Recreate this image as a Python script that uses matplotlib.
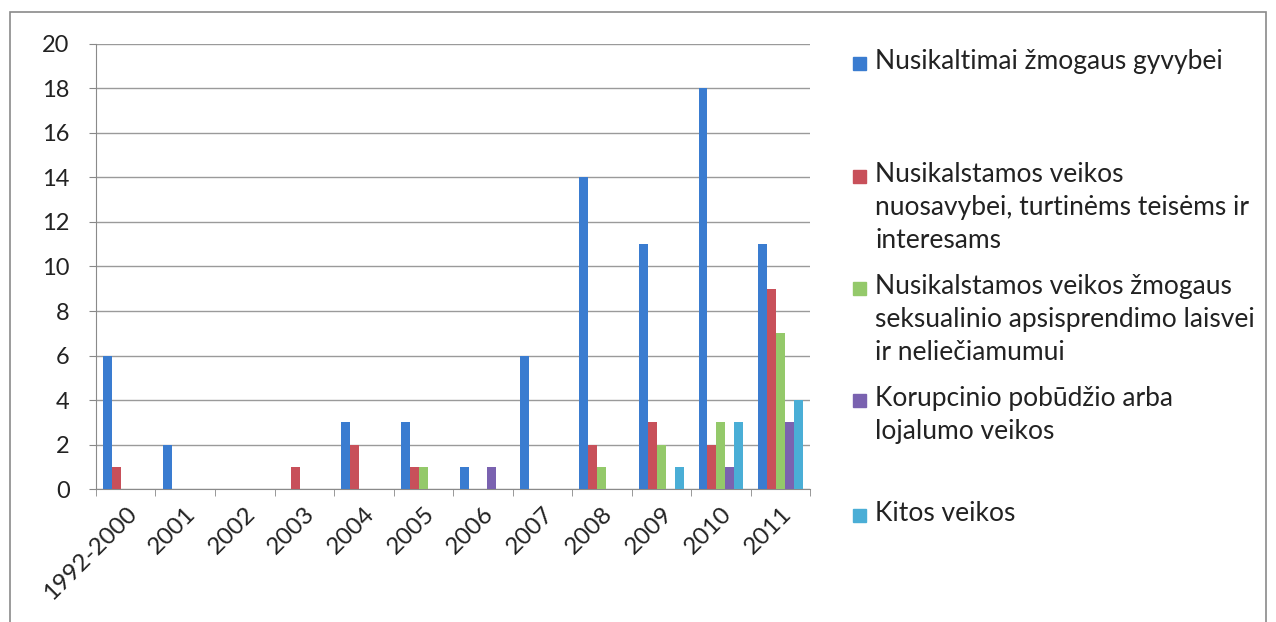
"""Grouped bar chart: nusikalstamos veikos by year."""

import matplotlib
matplotlib.use('Agg')
import matplotlib.pyplot as plt
from matplotlib.patches import Rectangle
import numpy as np

plt.rcParams.update({
    'font.family': ['Lato', 'DejaVu Sans'],
    'font.size': 14,
})

YEARS = ['1992-2000', '2001', '2002', '2003', '2004', '2005',
         '2006', '2007', '2008', '2009', '2010', '2011']
GYVYBEI      = [6, 2, 0, 0, 3, 3, 1, 6, 14, 11, 18, 11]
NUOSAVYBEI   = [1, 0, 0, 1, 2, 1, 0, 0, 2, 3, 2, 9]
SEKSUALINIO  = [0, 0, 0, 0, 0, 1, 0, 0, 1, 2, 3, 7]
KORUPCINIO   = [0, 0, 0, 0, 0, 0, 1, 0, 0, 0, 1, 3]
KITOS        = [0, 0, 0, 0, 0, 0, 0, 0, 0, 1, 3, 4]

SERIES = [GYVYBEI, NUOSAVYBEI, SEKSUALINIO, KORUPCINIO, KITOS]
LABELS = [
    'Nusikaltimai žmogaus gyvybei',
    'Nusikalstamos veikos\nnuosavybei, turtinėms teisėms ir\ninteresams',
    'Nusikalstamos veikos žmogaus\nseksualinio apsisprendimo laisvei\nir neliečiamumui',
    'Korupcinio pobūdžio arba\nlojalumo veikos',
    'Kitos veikos',
]
COLORS = ['#3a7cd0', '#c8505a', '#94c96a', '#7a62b0', '#4aaed6']

fig = plt.figure(figsize=(12.76, 6.22), dpi=100)
ax = fig.add_axes([0.0752, 0.2138, 0.5598, 0.7155])

x = np.arange(len(YEARS))
w = 0.151
for j, (vals, col) in enumerate(zip(SERIES, COLORS)):
    ax.bar(x + (j - 2) * w, vals, w, color=col, zorder=3)

ax.set_xlim(-0.5, len(YEARS) - 0.5)
ax.set_ylim(0, 20)
ax.set_yticks(range(0, 21, 2))
ax.tick_params(axis='y', length=5, color='#888', pad=14, labelsize=17,
               labelcolor='#222')
ax.grid(axis='y', color='#9a9a9a', linewidth=1, zorder=0)

ax.set_xticks(x)
ax.set_xticklabels(YEARS, rotation=45, ha='right', rotation_mode='anchor',
                   fontsize=17.5, color='#222')
ax.tick_params(axis='x', which='major', length=0, pad=10)
ax.set_xticks(np.arange(-0.5, len(YEARS)), minor=True)
ax.tick_params(axis='x', which='minor', length=5, color='#888')

for side in ('top', 'right'):
    ax.spines[side].set_visible(False)
for side in ('left', 'bottom'):
    ax.spines[side].set_color('#8a8a8a')

# legend drawn by hand to keep Excel's uneven spacing
W, H = 1276, 622
leg_top = [49, 162, 274, 386, 501]
for lab, col, top in zip(LABELS, COLORS, leg_top):
    fig.patches.append(Rectangle((853 / W, 1 - (top + 21) / H), 13 / W, 13 / H,
                                 transform=fig.transFigure, color=col))
    fig.text(875 / W, 1 - top / H, lab, ha='left', va='top', fontsize=19,
             color='#222', linespacing=1.39)

# outer chart frame
fig.patches.append(Rectangle((10 / W, -0.05), 1256 / W, 1 - 12 / H + 0.05,
                             transform=fig.transFigure, fill=False,
                             edgecolor='#8a8a8a', linewidth=1.2))

fig.savefig('out.png', dpi=100)
